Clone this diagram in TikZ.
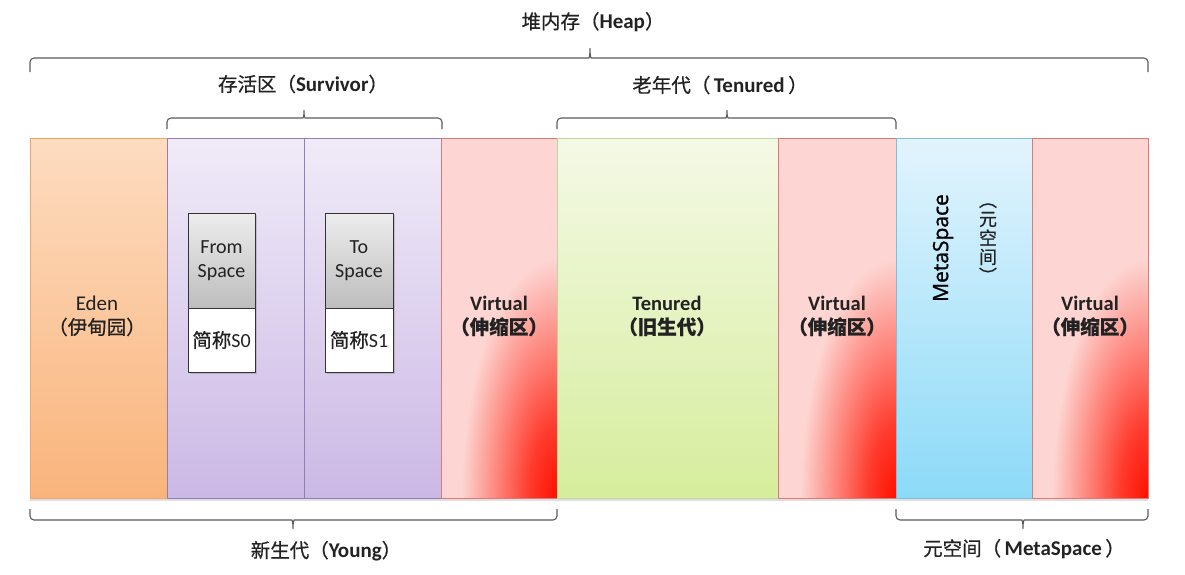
\documentclass[tikz,border=0pt]{standalone}
\usepackage{fontspec}
\setmainfont{Carlito}
\newfontfamily\cjk[FakeBold=0.6]{Noto Sans CJK SC}
\newfontfamily\metafont[FakeBold=1.2]{Open Sans}
\usepackage{tikz}
\usetikzlibrary{positioning,shadows}

\definecolor{edentop}{HTML}{FDDCC0}
\definecolor{edenbot}{HTML}{F9B47C}
\definecolor{edenline}{HTML}{F2A66A}
\definecolor{survtop}{HTML}{F0EBF8}
\definecolor{survbot}{HTML}{CBB8E5}
\definecolor{survline}{HTML}{8E80B0}
\definecolor{virtpink}{HTML}{FDD6D3}
\definecolor{virtred}{HTML}{FF1000}
\definecolor{virtmid}{HTML}{FE3C2E}
\definecolor{virtline}{HTML}{DE7A76}
\definecolor{tentop}{HTML}{F4F9E6}
\definecolor{tenbot}{HTML}{D6ED9C}
\definecolor{tenline}{HTML}{BFD69B}
\definecolor{metatop}{HTML}{E2F4FD}
\definecolor{metabot}{HTML}{8CDAF8}
\definecolor{metaline}{HTML}{7FBEDA}
\definecolor{boxtop}{HTML}{EDEDED}
\definecolor{boxbot}{HTML}{BDBDBD}
\definecolor{bracegray}{HTML}{5A5A5A}
\definecolor{inktext}{HTML}{222222}

\pgfdeclareradialshading{virtglow}{\pgfpointorigin}{color(0bp)=(virtred); color(3bp)=(virtmid); color(10bp)=(virtpink); color(50bp)=(virtpink)}

\newcommand\zh[1]{{\cjk\fontsize{19.5}{24}\selectfont #1}}
\newcommand\zhb[1]{{\cjk\bfseries\fontsize{19.5}{24}\selectfont #1}}

\begin{document}
\begin{tikzpicture}[x=1pt,y=-1pt,line join=round,
  col/.style={draw,line width=.8pt,inner sep=0pt,outer sep=0pt,minimum height=360pt,
    drop shadow={shadow xshift=0pt,shadow yshift=-2.5pt,opacity=.25}},
  edencol/.style={col,draw=edenline,top color=edentop,bottom color=edenbot},
  survcol/.style={col,draw=survline,top color=survtop,bottom color=survbot},
  virtcol/.style={col,draw=virtline,fill=virtpink,
    path picture={\shade[shading=virtglow]
      (path picture bounding box.south east) ellipse [x radius=240pt,y radius=600pt];}},
  tencol/.style={col,draw=tenline,top color=tentop,bottom color=tenbot},
  metacol/.style={col,draw=metaline,top color=metatop,bottom color=metabot},
  graybox/.style={draw=black!80,line width=1pt,top color=boxtop,bottom color=boxbot,
    inner sep=0pt,outer sep=0pt,align=center,text=inktext,
    font=\fontsize{20}{24}\selectfont,
    drop shadow={shadow xshift=1.5pt,shadow yshift=-1.5pt,opacity=.35}},
  whitebox/.style={graybox,fill=white,top color=white,bottom color=white},
  lbl/.style={align=center,text=inktext,font=\fontsize{21}{24}\selectfont},
  boldlbl/.style={lbl,font=\bfseries\fontsize{20.5}{24}\selectfont},
  brace/.style={draw=bracegray,line width=1.1pt,rounded corners=4pt},
]
\useasboundingbox (0,0) rectangle (1185,574);

% Columns
\node[edencol,minimum width=137pt,anchor=north west] (eden) at (30,138) {};
\node[survcol,minimum width=137pt,right=0pt of eden] (szero) {};
\node[survcol,minimum width=137pt,right=0pt of szero] (sone) {};
\node[virtcol,minimum width=116pt,right=0pt of sone] (virtyoung) {};
\node[tencol,minimum width=221pt,right=0pt of virtyoung] (tenured) {};
\node[virtcol,minimum width=118pt,right=0pt of tenured] (virtold) {};
\node[metacol,minimum width=136pt,right=0pt of virtold] (meta) {};
\node[virtcol,minimum width=116pt,right=0pt of meta] (virtmeta) {};

% Column labels
\node[lbl] (edenlbl) at (97,316) {Eden\\\zh{（伊甸园）}};
\node[boldlbl] (virtyounglbl) at (499,316) {Virtual\\\zhb{（伸缩区）}};
\node[boldlbl] (tenuredlbl) at (667,316) {Tenured\\\zhb{（旧生代）}};
\node[boldlbl] (virtoldlbl) at (837,316) {Virtual\\\zhb{（伸缩区）}};
\node[boldlbl] (virtmetalbl) at (1090,316) {Virtual\\\zhb{（伸缩区）}};
\node[rotate=90,text=black,font=\metafont\fontsize{21}{24}\selectfont] (metaname) at (943,248) {MetaSpace};
\node[align=center,text=inktext,font=\cjk\fontsize{18}{19}\selectfont] (metazh) at (988,243) {︵\\元\\空\\间\\︶};

% Survivor spaces
\node[graybox,minimum width=67pt,minimum height=95pt] (fromtop) at (221.5,260.5) {From\\Space};
\node[whitebox,minimum width=67pt,minimum height=64pt,below=0pt of fromtop] (frombot) {\zh{简称}S0};
\node[graybox,minimum width=68pt,minimum height=95pt] (totop) at (359,260.5) {To\\Space};
\node[whitebox,minimum width=68pt,minimum height=64pt,below=0pt of totop] (tobot) {\zh{简称}S1};

% Brace: heap
\draw[brace] (30,72) -- (30,58) -- (585,58) .. controls (589,58) and (590,55) .. (590,46)
  .. controls (590,55) and (591,58) .. (595,58) -- (1148,58) -- (1148,72);
\node[lbl] (heaplbl) at (593,22) {\zh{堆内存（}\textbf{Heap}\zh{）}};
% Brace: survivor
\draw[brace] (167,129) -- (167,118) -- (299,118) .. controls (303,118) and (304,116) .. (304,108)
  .. controls (304,116) and (305,118) .. (309,118) -- (442,118) -- (442,129);
\node[lbl] (survlbl) at (303,84) {\zh{存活区（}\textbf{Survivor}\zh{）}};
% Brace: tenured
\draw[brace] (557,129) -- (557,118) -- (722,118) .. controls (726,118) and (727,116) .. (727,108)
  .. controls (727,116) and (728,118) .. (732,118) -- (896,118) -- (896,129);
\node[lbl] (tenlbl) at (720,85) {\zh{老年代（}\,\textbf{Tenured}\,\zh{）}};
% Brace: young
\draw[brace] (30,509) -- (30,520) -- (288,520) .. controls (292,520) and (293,523) .. (293,531)
  .. controls (293,523) and (294,520) .. (298,520) -- (557,520) -- (557,509);
\node[lbl] (younglbl) at (326,551) {\zh{新生代（}\textbf{Young}\zh{）}};
% Brace: metaspace
\draw[brace] (896,509) -- (896,520) -- (1018,520) .. controls (1022,520) and (1023,523) .. (1023,531)
  .. controls (1023,523) and (1024,520) .. (1028,520) -- (1148,520) -- (1148,509);
\node[lbl] (metalbl) at (1024,549) {\zh{元空间（}\,\textbf{MetaSpace}\,\zh{）}};
\end{tikzpicture}
\end{document}
